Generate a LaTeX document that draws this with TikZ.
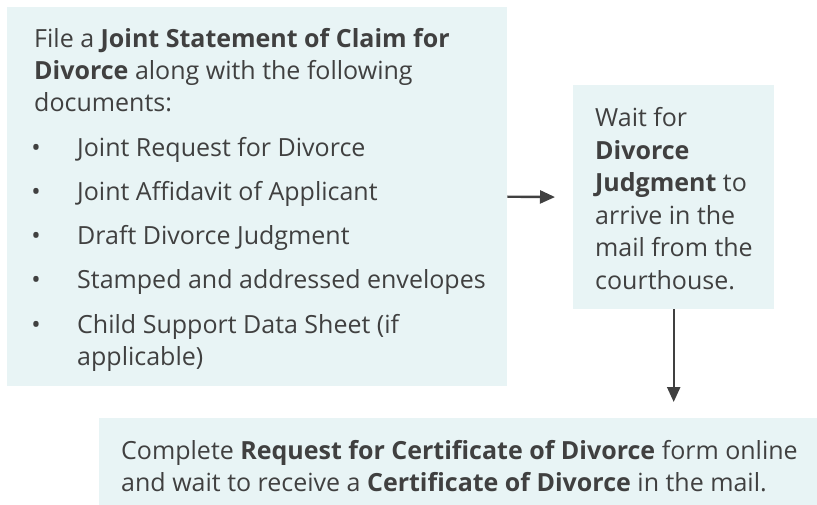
\documentclass[tikz,border=0pt]{standalone}
\usepackage{fontspec}
\setmainfont{Open Sans}
\usetikzlibrary{arrows.meta}
\definecolor{boxfill}{HTML}{E8F4F5}
\definecolor{ink}{HTML}{404040}
\begin{document}
\begin{tikzpicture}[x=1pt,y=-1pt,
  box/.style={fill=boxfill, draw=none, inner sep=0pt, anchor=north west},
  txt/.style={anchor=base west, inner sep=0pt, text=ink, font=\fontsize{25}{32}\selectfont},
  bul/.style={anchor=base, inner sep=0pt, text=ink, font=\fontsize{25}{32}\selectfont},
  arr/.style={draw=ink, line width=2.4pt, -{Triangle[length=15pt,width=13pt]}}]
\useasboundingbox (0,0) rectangle (817,505);
% boxes
\node[box, minimum width=500pt, minimum height=379pt] (b1) at (7,7) {};
\node[box, minimum width=201pt, minimum height=224pt] (b2) at (573,85) {};
\node[box, minimum width=718pt, minimum height=87pt] (b3) at (99,418) {};
% box 1 text
\node[txt] (p1) at (34,48) {File a \textbf{Joint Statement of Claim for}};
\node[txt] (p2) at (34,80) {\textbf{Divorce} along with the following};
\node[txt] (p3) at (34,112) {documents:};
\node[bul] (d1) at (36,157) {•};
\node[txt] (i1) at (77,157) {Joint Request for Divorce};
\node[bul] (d2) at (36,201) {•};
\node[txt] (i2) at (77,201) {Joint Affidavit of Applicant};
\node[bul] (d3) at (36,245) {•};
\node[txt] (i3) at (77,245) {Draft Divorce Judgment};
\node[bul] (d4) at (36,289) {•};
\node[txt] (i4) at (77,289) {Stamped and addressed envelopes};
\node[bul] (d5) at (36,333) {•};
\node[txt] (i5) at (77,333) {Child Support Data Sheet (if};
\node[txt] (i6) at (77,365) {applicable)};
% box 2 text
\node[txt] (w1) at (595,127) {Wait for};
\node[txt] (w2) at (595,159.5) {\textbf{Divorce}};
\node[txt] (w3) at (595,192) {\textbf{Judgment} to};
\node[txt] (w4) at (595,224.5) {arrive in the};
\node[txt] (w5) at (595,257) {mail from the};
\node[txt] (w6) at (595,289.5) {courthouse.};
% box 3 text
\node[txt] (c1) at (121,459) {Complete \textbf{Request for Certificate of Divorce} form online};
\node[txt] (c2) at (121,491) {and wait to receive a \textbf{Certificate of Divorce} in the mail.};
% connectors
\draw[arr, shorten >=18pt] (b1.east) -- (b2.west);
\draw[arr, shorten >=16pt] (b2.south) -- (b2.south |- b3.north);
\end{tikzpicture}
\end{document}
